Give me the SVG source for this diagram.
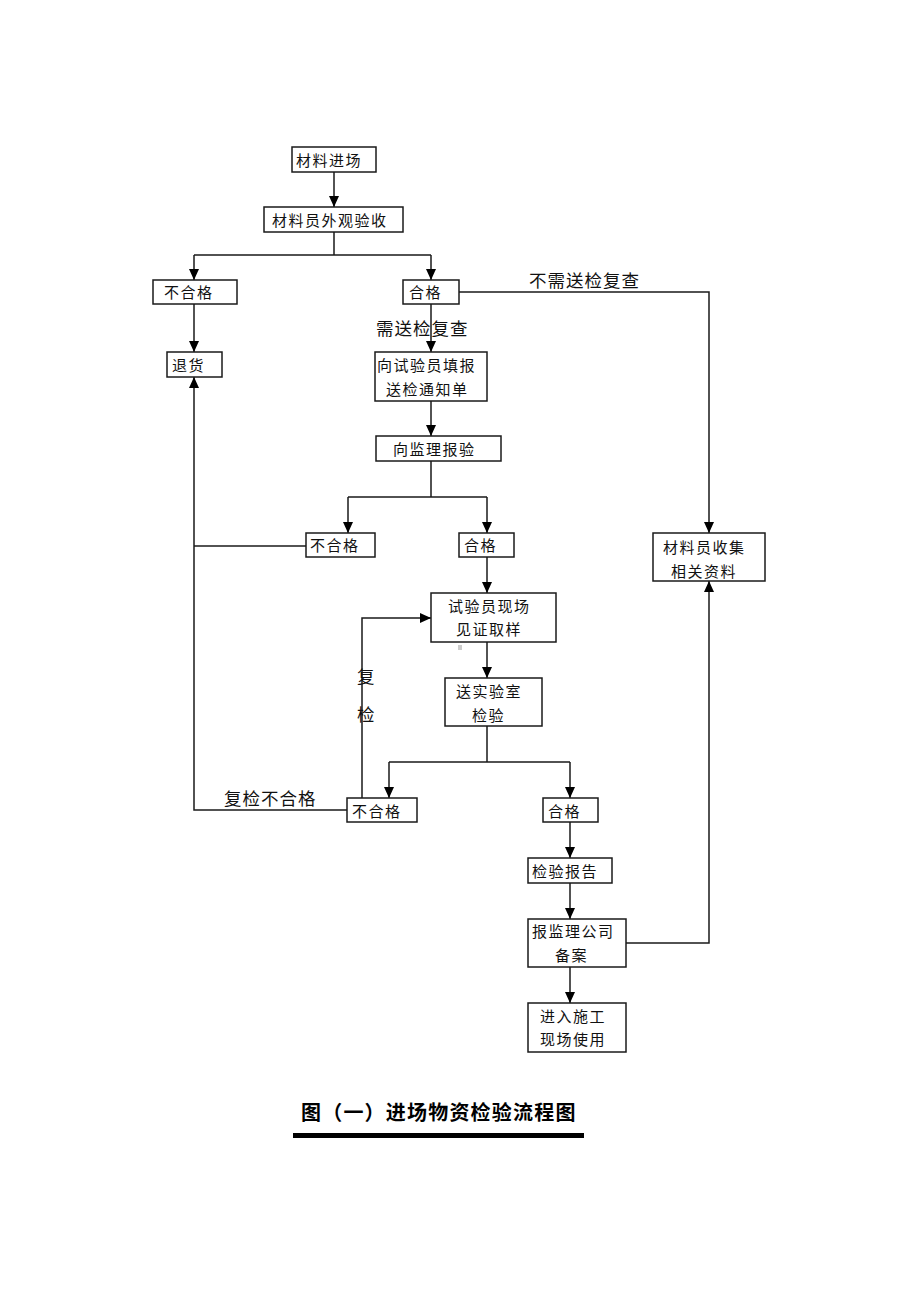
<svg xmlns="http://www.w3.org/2000/svg" width="920" height="1302" viewBox="0 0 920 1302">
<style>
.box{fill:#fff;stroke:#1a1a1a;stroke-width:1.5}
.t{font-family:"Noto Sans CJK SC","Noto Sans CJK JP",sans-serif;font-size:15px;letter-spacing:1.5px;fill:#111}
.lbl{font-family:"Noto Sans CJK SC","Noto Sans CJK JP",sans-serif;font-size:17.5px;letter-spacing:1px;fill:#111}
.c{fill:none;stroke:#1a1a1a;stroke-width:1.5}
.title{font-family:"Noto Sans CJK SC","Noto Sans CJK JP",sans-serif;font-size:20px;font-weight:bold;letter-spacing:1.2px;fill:#000}
</style>
<defs>
<marker id="ah" markerUnits="userSpaceOnUse" markerWidth="12" markerHeight="12" viewBox="0 0 12 12" refX="11" refY="6" orient="auto">
<path d="M0,1 L11,6 L0,11 Z" fill="#000"/>
</marker>
</defs>
<rect width="920" height="1302" fill="#fff"/>

<g id="connectors">
<path class="c" d="M334,172 V207" marker-end="url(#ah)"/>
<path class="c" d="M334,232 V255 M194,255 H431"/>
<path class="c" d="M194,255 V280" marker-end="url(#ah)"/>
<path class="c" d="M431,255 V280" marker-end="url(#ah)"/>
<path class="c" d="M194,304 V352" marker-end="url(#ah)"/>
<path class="c" d="M431,304 V352" marker-end="url(#ah)"/>
<path class="c" d="M459,292 H709 V533" marker-end="url(#ah)"/>
<path class="c" d="M431,401 V436" marker-end="url(#ah)"/>
<path class="c" d="M431,461 V497 M348,497 H487"/>
<path class="c" d="M348,497 V533" marker-end="url(#ah)"/>
<path class="c" d="M487,497 V533" marker-end="url(#ah)"/>
<path class="c" d="M306,546 H194"/>
<path class="c" d="M347,810 H194 V377" marker-end="url(#ah)"/>
<path class="c" d="M487,557 V593" marker-end="url(#ah)"/>
<path class="c" d="M362,798 V618 H431" marker-end="url(#ah)"/>
<path class="c" d="M487,642 V678" marker-end="url(#ah)"/>
<path class="c" d="M487,726 V762 M389,762 H570"/>
<path class="c" d="M389,762 V798" marker-end="url(#ah)"/>
<path class="c" d="M570,762 V798" marker-end="url(#ah)"/>
<path class="c" d="M570,822 V858" marker-end="url(#ah)"/>
<path class="c" d="M570,883 V919" marker-end="url(#ah)"/>
<path class="c" d="M570,967 V1003" marker-end="url(#ah)"/>
<path class="c" d="M626,943 H709 V581" marker-end="url(#ah)"/>
<text class="lbl" x="376" y="335">需送检复查</text>
<text class="lbl" x="529" y="287">不需送检复查</text>
<text class="lbl" x="224" y="805">复检不合格</text>
<text class="lbl" x="357" y="683">复</text>
<text class="lbl" x="357" y="721">检</text>
</g>

<g id="n1"><rect class="box" x="292" y="147" width="84" height="25"/><text class="t" x="296" y="166">材料进场</text></g>
<g id="n2"><rect class="box" x="264" y="207" width="139" height="25"/><text class="t" x="272" y="226">材料员外观验收</text></g>
<g id="n3"><rect class="box" x="153" y="280" width="84" height="24"/><text class="t" x="164" y="298">不合格</text></g>
<g id="n4"><rect class="box" x="403" y="280" width="56" height="24"/><text class="t" x="409" y="298">合格</text></g>
<g id="n5"><rect class="box" x="167" y="352" width="55" height="25"/><text class="t" x="172" y="371">退货</text></g>
<g id="n6"><rect class="box" x="375" y="352" width="112" height="49"/><text class="t" x="377" y="371">向试验员填报</text><text class="t" x="386" y="395">送检通知单</text></g>
<g id="n7"><rect class="box" x="376" y="436" width="125" height="25"/><text class="t" x="393" y="455">向监理报验</text></g>
<g id="n8"><rect class="box" x="306" y="533" width="69" height="24"/><text class="t" x="310" y="551">不合格</text></g>
<g id="n9"><rect class="box" x="459" y="533" width="55" height="24"/><text class="t" x="464" y="551">合格</text></g>
<g id="n10"><rect class="box" x="431" y="593" width="125" height="49"/><text class="t" x="448" y="612">试验员现场</text><text class="t" x="456" y="635">见证取样</text></g>
<rect x="458" y="645" width="4" height="5" fill="#ccc"/>
<g id="n11"><rect class="box" x="445" y="678" width="97" height="48"/><text class="t" x="456" y="697">送实验室</text><text class="t" x="472" y="721">检验</text></g>
<g id="n12"><rect class="box" x="347" y="798" width="70" height="24"/><text class="t" x="352" y="817">不合格</text></g>
<g id="n13"><rect class="box" x="543" y="798" width="55" height="24"/><text class="t" x="548" y="817">合格</text></g>
<g id="n14"><rect class="box" x="528" y="858" width="84" height="25"/><text class="t" x="532" y="877">检验报告</text></g>
<g id="n15"><rect class="box" x="528" y="919" width="98" height="48"/><text class="t" x="532" y="937">报监理公司</text><text class="t" x="555" y="961">备案</text></g>
<g id="n16"><rect class="box" x="528" y="1003" width="98" height="49"/><text class="t" x="540" y="1022">进入施工</text><text class="t" x="540" y="1045">现场使用</text></g>
<g id="n17"><rect class="box" x="653" y="533" width="112" height="48"/><text class="t" x="663" y="553">材料员收集</text><text class="t" x="671" y="577">相关资料</text></g>

<g id="title">
<text class="title" x="301" y="1120">图（一）进场物资检验流程图</text>
<rect x="293" y="1133" width="291" height="5" fill="#000"/>
</g>
</svg>
